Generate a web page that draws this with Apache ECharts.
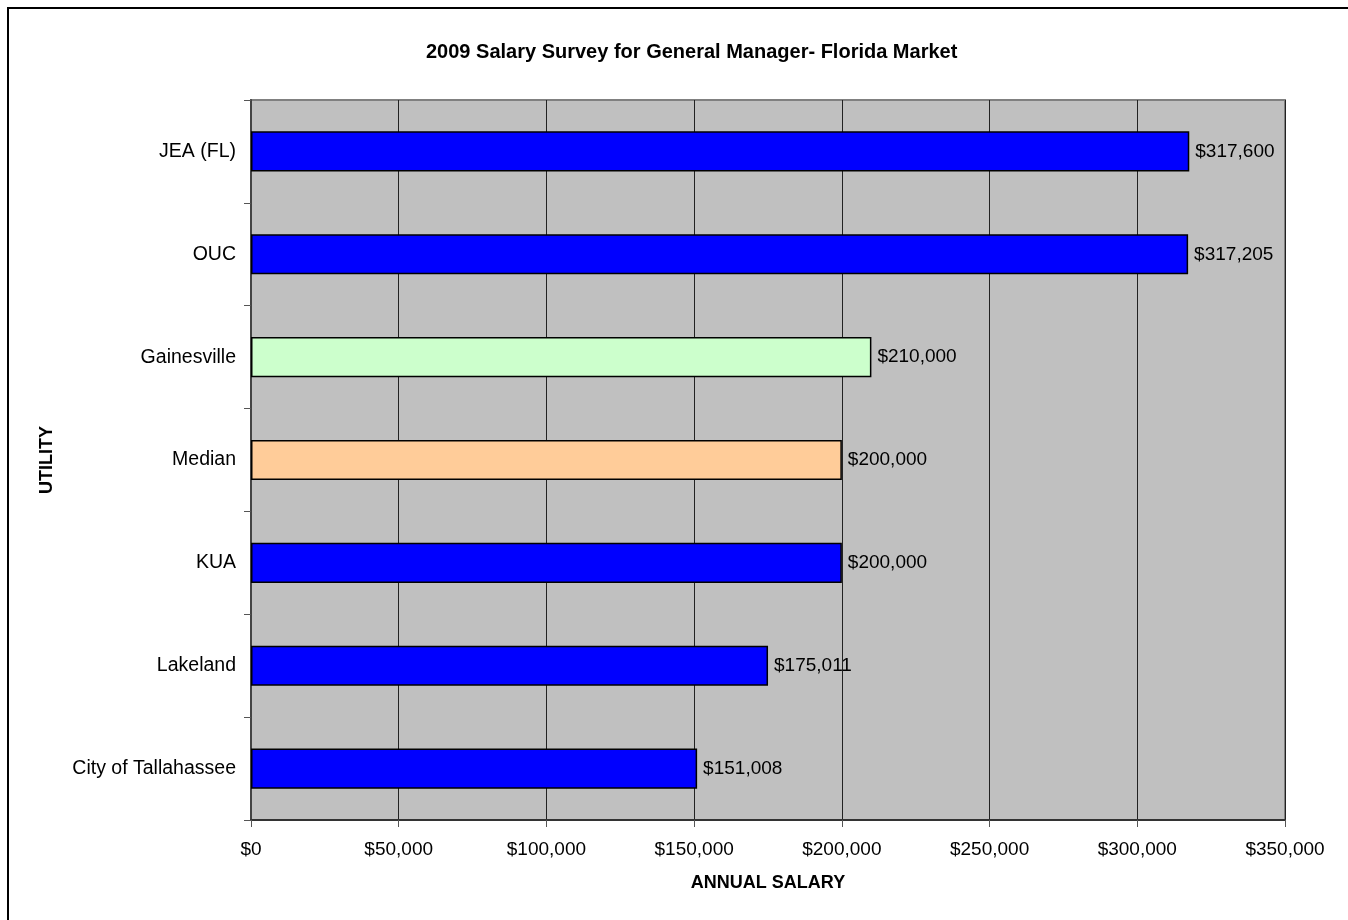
<!DOCTYPE html>
<html>
<head>
<meta charset="utf-8">
<script src="https://cdn.jsdelivr.net/npm/echarts@6/dist/echarts.min.js"></script>
<style>
html,body{margin:0;padding:0;background:#fff;}
#chart{width:1348px;height:920px;}
</style>
</head>
<body>
<div id="chart"></div>
<script>
const titleText = '2009 Salary Survey for General Manager- Florida Market';
const categories = ['City of Tallahassee', 'Lakeland', 'KUA', 'Median', 'Gainesville', 'OUC', 'JEA (FL)'];
const salaries = [151008, 175011, 200000, 200000, 210000, 317205, 317600];
const xAxisName = 'ANNUAL SALARY';
const yAxisName = 'UTILITY';

const defaultColor = '#0000FF';
const specialColors = { 'Median': '#FFCC99', 'Gainesville': '#CCFFCC' };

function money(v) {
  return '$' + Number(v).toLocaleString('en-US');
}

const chart = echarts.init(document.getElementById('chart'), null, { renderer: 'canvas' });
const font = 'Liberation Sans, Arial, Helvetica, sans-serif';

chart.setOption({
  animation: false,
  backgroundColor: '#ffffff',
  textStyle: { fontFamily: font },
  title: {
    text: titleText,
    left: 421,
    top: 37,
    textStyle: { fontFamily: font, fontSize: 20, fontWeight: 'bold', color: '#000' }
  },
  graphic: [{
    type: 'rect',
    shape: { x: 8, y: 8, width: 1400, height: 1000 },
    style: { fill: null, stroke: '#000', lineWidth: 2 },
    z: 100
  }],
  grid: {
    left: 251, top: 100, right: 63, bottom: 100,
    show: true,
    backgroundColor: '#C0C0C0',
    borderColor: '#808080',
    borderWidth: 2
  },
  xAxis: {
    type: 'value',
    min: 0,
    max: 350000,
    interval: 50000,
    name: xAxisName,
    nameLocation: 'middle',
    nameGap: 54,
    nameTextStyle: { fontFamily: font, fontSize: 18, fontWeight: 'bold', color: '#000' },
    axisLine: { show: true, lineStyle: { color: '#333', width: 2 } },
    axisTick: { show: true, length: 7, lineStyle: { color: '#555', width: 1 } },
    axisLabel: { formatter: money, fontFamily: font, fontSize: 19, color: '#000', margin: 20 },
    splitLine: { show: true, lineStyle: { color: '#222', width: 1 } }
  },
  yAxis: {
    type: 'category',
    data: categories,
    name: yAxisName,
    nameLocation: 'middle',
    nameGap: 195,
    nameTextStyle: { fontFamily: font, fontSize: 18, fontWeight: 'bold', color: '#000' },
    axisLine: { show: true, lineStyle: { color: '#444', width: 2 } },
    axisTick: { show: true, length: 7, lineStyle: { color: '#555', width: 1 } },
    axisLabel: { fontFamily: font, fontSize: 19.5, color: '#000', margin: 15 },
    splitLine: { show: false }
  },
  series: [{
    type: 'bar',
    barWidth: '39%',
    data: salaries.map((v, i) => ({
      value: v,
      itemStyle: { color: specialColors[categories[i]] || defaultColor }
    })),
    itemStyle: { borderColor: '#000', borderWidth: 1.5 },
    label: {
      show: true,
      position: 'right',
      distance: 6,
      formatter: p => money(p.value),
      fontFamily: font,
      fontSize: 19,
      color: '#000'
    }
  }]
});
</script>
</body>
</html>
